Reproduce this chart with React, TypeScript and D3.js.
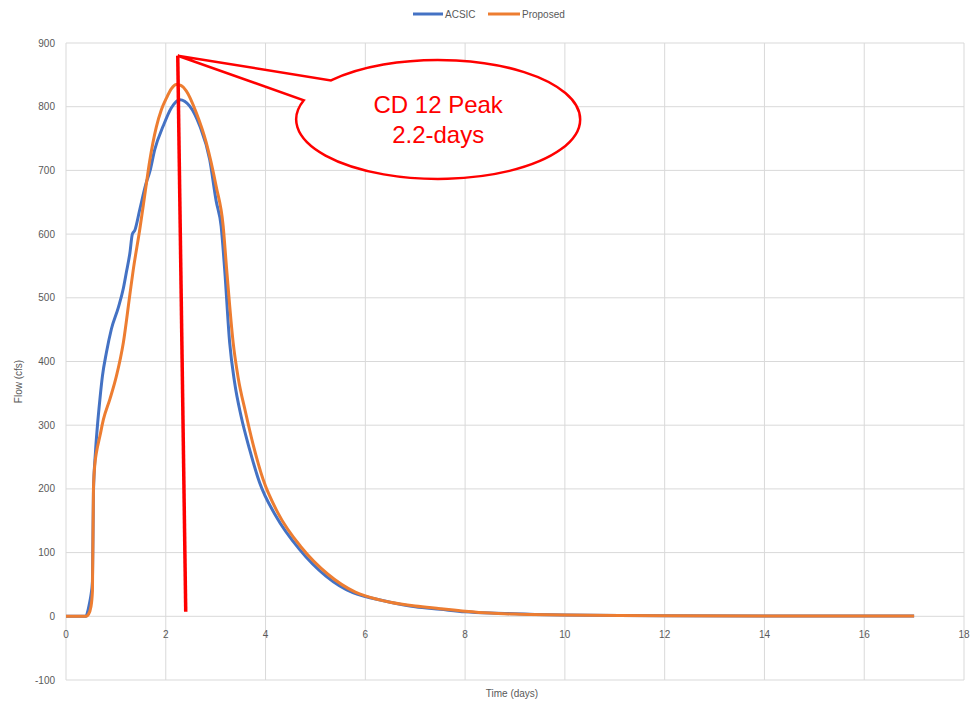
import React, { useMemo } from "react";
import * as d3 from "d3";

const xTicks = [0, 2, 4, 6, 8, 10, 12, 14, 16, 18];
const yTicks = [-100, 0, 100, 200, 300, 400, 500, 600, 700, 800, 900];

const acsicTime = [0, 0.4, 0.43, 0.47, 0.5, 0.53, 0.55, 0.59, 0.63, 0.68, 0.73, 0.81, 0.91, 1.05, 1.15, 1.21, 1.28, 1.33, 1.38, 1.48, 1.61, 1.68, 1.78, 1.95, 2.11, 2.28, 2.48, 2.68, 2.88, 3.01, 3.11, 3.18, 3.28, 3.38, 3.51, 3.68, 3.88, 4.21, 4.68, 5.21, 5.75, 6.0, 6.5, 7.0, 7.5, 8.0, 8.5, 9.0, 9.4, 10, 12, 14, 17];
const acsicFlow = [0, 0, 6, 20, 33, 55, 194, 257, 299, 341, 377, 414, 451, 485, 515, 540, 570, 600, 606, 639, 681, 698, 733, 770, 798, 811, 801, 770, 717, 652, 612, 545, 430, 367, 314, 262, 210, 157, 105, 63, 37, 31, 22, 15, 11, 7, 5, 4, 3, 2, 1, 0.5, 0.5];

const proposedTime = [0, 0.4, 0.45, 0.5, 0.53, 0.55, 0.58, 0.61, 0.68, 0.75, 0.88, 1.01, 1.15, 1.28, 1.35, 1.48, 1.58, 1.68, 1.81, 1.91, 2.01, 2.11, 2.21, 2.31, 2.41, 2.61, 2.81, 3.01, 3.15, 3.22, 3.35, 3.45, 3.6, 3.75, 3.95, 4.25, 4.72, 5.25, 5.8, 6.0, 6.5, 7.0, 7.5, 8.0, 8.5, 9.0, 10, 12, 14, 17];
const proposedFlow = [0, 0, 3, 15, 40, 200, 240, 257, 283, 309, 341, 377, 430, 505, 545, 608, 662, 716, 768, 795, 813, 828, 835, 833, 825, 791, 744, 675, 613, 545, 430, 375, 320, 270, 215, 162, 108, 66, 38, 32, 22, 16, 12, 8, 5, 3.5, 2, 1, 0.5, 0.5];

const seriesNames = ["ACSIC", "Proposed"];
const seriesColors = ["#4472C4", "#ED7D31"];

// annotation (data units)
const peakLabelLines = ["CD 12 Peak", "2.2-days"];
const markerTop = { t: 2.24, q: 880 };
const markerBottom = { t: 2.4, q: 7 };
const bubbleCenter = { t: 7.46, q: 780 };
const bubbleA = { t: 5.32, q: 841 };
const bubbleB = { t: 4.78, q: 810 };

export default function App() {
  const W = 973;
  const H = 704;
  const left = 66;
  const right = 964;
  const top = 43;
  const bottom = 680;

  const x = useMemo(() => d3.scaleLinear().domain([0, 18]).range([left, right]), []);
  const y = useMemo(() => d3.scaleLinear().domain([-100, 900]).range([bottom, top]), []);

  const line = d3
    .line<[number, number]>()
    .x((d) => x(d[0]))
    .y((d) => y(d[1]))
    .curve(d3.curveMonotoneX);

  const acsic = acsicTime.map((t, i) => [t, acsicFlow[i]] as [number, number]);
  const proposed = proposedTime.map((t, i) => [t, proposedFlow[i]] as [number, number]);

  const font = "'Liberation Sans', Arial, sans-serif";
  const textGray = "#595959";

  const cx = x(bubbleCenter.t);
  const cy = y(bubbleCenter.q);
  const rx = 142;
  const ry = 59.5;
  const proj = (p: { t: number; q: number }) => {
    const dx = x(p.t) - cx;
    const dy = y(p.q) - cy;
    const k = 1 / Math.sqrt((dx / rx) ** 2 + (dy / ry) ** 2);
    return [cx + dx * k, cy + dy * k];
  };
  const A = proj(bubbleA);
  const B = proj(bubbleB);
  const tipX = x(markerTop.t);
  const tipY = y(markerTop.q);
  const bubblePath = `M${A[0]},${A[1]} A${rx},${ry} 0 1 1 ${B[0]},${B[1]} L${tipX},${tipY} Z`;

  return (
    <div style={{ position: "fixed", left: 0, top: 0, width: W, height: H, background: "#fff" }}>
      <svg width={W} height={H} style={{ display: "block" }}>
        <rect x={0} y={0} width={W} height={H} fill="#fff" />
        {yTicks.map((v) => (
          <line key={"gy" + v} x1={left} x2={right} y1={y(v)} y2={y(v)} stroke="#d9d9d9" strokeWidth={1} />
        ))}
        {xTicks.map((v) => (
          <line key={"gx" + v} x1={x(v)} x2={x(v)} y1={top} y2={bottom} stroke="#d9d9d9" strokeWidth={1} />
        ))}
        {yTicks.map((v) => (
          <text key={"ty" + v} x={55} y={y(v) + 3.5} textAnchor="end" fontFamily={font} fontSize={10} fill={textGray}>
            {v}
          </text>
        ))}
        {xTicks.map((v) => (
          <text key={"tx" + v} x={x(v)} y={638} textAnchor="middle" fontFamily={font} fontSize={10} fill={textGray}>
            {v}
          </text>
        ))}
        <text x={512} y={697} textAnchor="middle" fontFamily={font} fontSize={10} fill={textGray}>
          Time (days)
        </text>
        <text
          transform={`translate(22,${(top + bottom) / 2 + 20}) rotate(-90)`}
          textAnchor="middle"
          fontFamily={font}
          fontSize={10}
          fill={textGray}
        >
          Flow (cfs)
        </text>
        <path d={line(acsic) || ""} fill="none" stroke={seriesColors[0]} strokeWidth={3} strokeLinejoin="round" />
        <path d={line(proposed) || ""} fill="none" stroke={seriesColors[1]} strokeWidth={3} strokeLinejoin="round" />
        <g>
          <line x1={413} x2={443} y1={14} y2={14} stroke={seriesColors[0]} strokeWidth={3} />
          <text x={445} y={17.5} fontFamily={font} fontSize={10} fill={textGray}>
            {seriesNames[0]}
          </text>
          <line x1={488} x2={520} y1={14} y2={14} stroke={seriesColors[1]} strokeWidth={3} />
          <text x={522} y={17.5} fontFamily={font} fontSize={10} fill={textGray}>
            {seriesNames[1]}
          </text>
        </g>
        <line
          x1={x(markerTop.t)}
          y1={y(markerTop.q)}
          x2={x(markerBottom.t)}
          y2={y(markerBottom.q)}
          stroke="#ff0000"
          strokeWidth={3.5}
        />
        <path d={bubblePath} fill="#fff" stroke="#ff0000" strokeWidth={2.5} strokeLinejoin="miter" />
        <text x={cx} y={cy - 6} textAnchor="middle" fontFamily={font} fontSize={24} fill="#ff0000">
          {peakLabelLines[0]}
        </text>
        <text x={cx} y={cy + 24} textAnchor="middle" fontFamily={font} fontSize={24} fill="#ff0000">
          {peakLabelLines[1]}
        </text>
      </svg>
    </div>
  );
}
